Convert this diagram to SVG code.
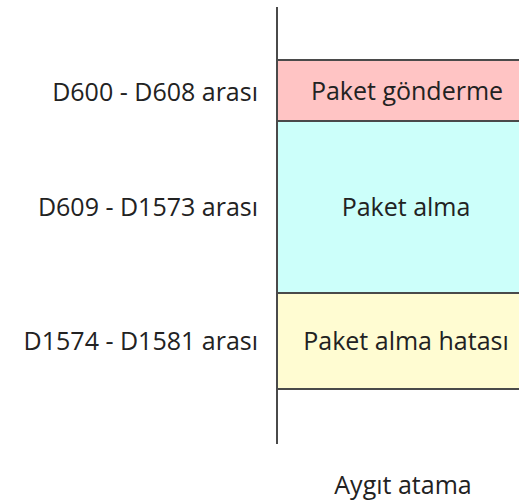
<svg xmlns="http://www.w3.org/2000/svg" width="519" height="502" viewBox="0 0 519 502">
<style>
.t{font-family:"Open Sans","Noto Sans",sans-serif;font-size:25px;fill:#222222}
.c{text-anchor:middle}
.r{text-anchor:end}
.ln{stroke:#4a4a4a;stroke-width:2;fill:none}
</style>
<rect width="519" height="502" fill="#ffffff"/>
<g id="seg-send">
<rect x="277" y="60" width="243" height="61" fill="#ffc4c4"/>
<text class="t c" x="407" y="100">Paket gönderme</text>
</g>
<g id="seg-recv">
<rect x="277" y="121" width="243" height="172" fill="#ccfffa"/>
<text class="t c" x="406" y="216">Paket alma</text>
</g>
<g id="seg-err">
<rect x="277" y="293" width="243" height="96" fill="#fffcd2"/>
<text class="t c" x="406" y="350">Paket alma hatası</text>
</g>
<g id="labels">
<text class="t r" x="258" y="101">D600 - D608 arası</text>
<text class="t r" x="258" y="216">D609 - D1573 arası</text>
<text class="t r" x="258" y="350">D1574 - D1581 arası</text>
<text class="t c" x="403" y="494">Aygıt atama</text>
</g>
<g id="connectors">
<line class="ln" x1="277" y1="60" x2="519" y2="60"/>
<line class="ln" x1="277" y1="121" x2="519" y2="121"/>
<line class="ln" x1="277" y1="293" x2="519" y2="293"/>
<line class="ln" x1="277" y1="389" x2="519" y2="389"/>
<line class="ln" x1="277" y1="7" x2="277" y2="444"/>
</g>
</svg>
